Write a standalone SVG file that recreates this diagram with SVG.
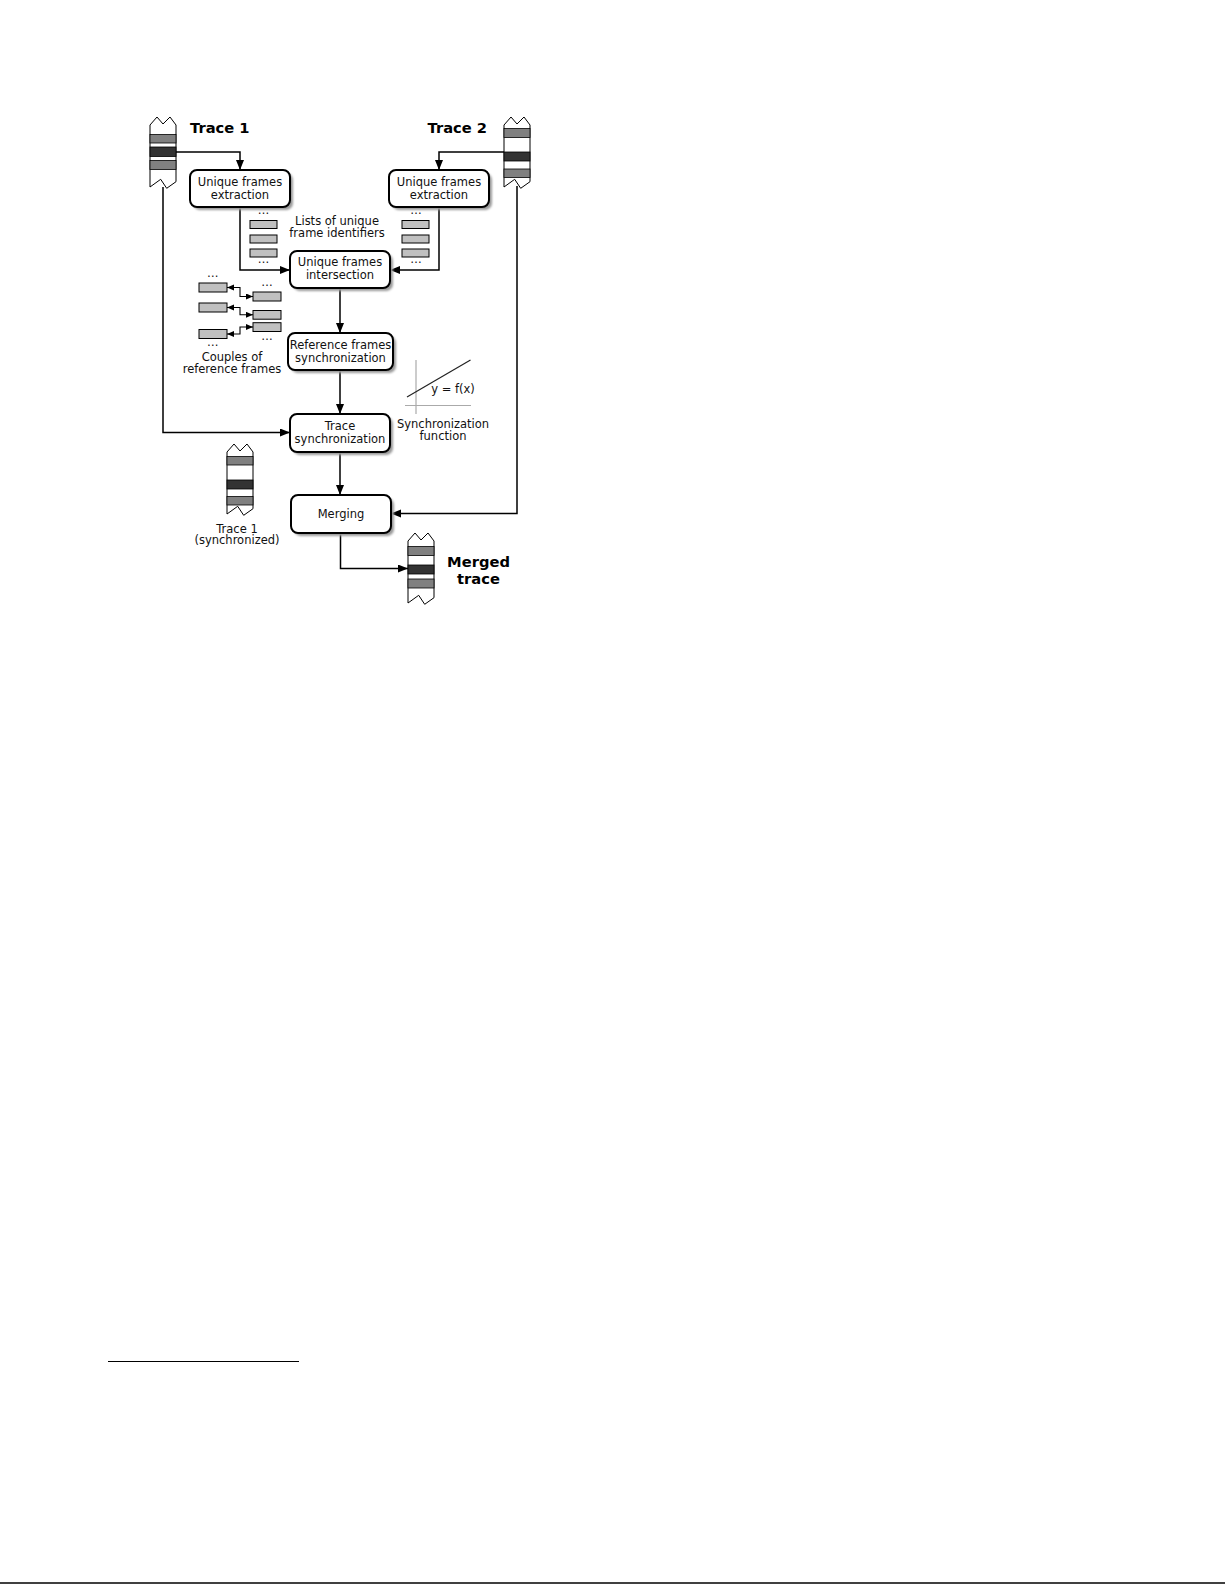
<svg xmlns="http://www.w3.org/2000/svg" width="1225" height="1585" viewBox="0 0 1225 1585">
<style>
  text { font-family: "DejaVu Sans", "Liberation Sans", sans-serif; font-size: 11.5px; fill: #111; }
  .title { font-weight: bold; font-size: 14.7px; fill: #000; }
  .mid { text-anchor: middle; }
  .box { fill: #fff; stroke: #000; stroke-width: 2; }
  .shadow { fill: #9a9a9a; filter: url(#blur); }
  .conn { fill: none; stroke: #000; stroke-width: 1.5; }
  .small { fill: none; stroke: #000; stroke-width: 1.1; }
  .frame { fill: #c0c0c0; stroke: #000; stroke-width: 1; }
  .tape { fill: #fff; stroke: #000; stroke-width: 1; }
  .gray { fill: #808080; stroke: #000; stroke-width: 0.8; }
  .dark { fill: #333; stroke: #000; stroke-width: 0.8; }
  .axis { stroke: #aaa; stroke-width: 1.2; fill: none; }
</style>
<defs>
  <filter id="blur" x="-10%" y="-10%" width="120%" height="130%">
    <feGaussianBlur stdDeviation="1"/>
  </filter>
  <marker id="arr" markerUnits="userSpaceOnUse" markerWidth="11" markerHeight="9" refX="10" refY="4" orient="auto">
    <path d="M0,0 L10,4 L0,8 z" fill="#000"/>
  </marker>
  <marker id="sarr" markerUnits="userSpaceOnUse" markerWidth="8" markerHeight="7" refX="7" refY="3" orient="auto-start-reverse">
    <path d="M0,0 L7,3 L0,6 z" fill="#000"/>
  </marker>
  <path id="tapeShape" d="M0,8 L7,0 L13,7 L20,0 L26,8 L26,64.7 L16.7,71.3 L10.7,62.3 L0,70 Z"/>
</defs>
<rect width="1225" height="1585" fill="#fff"/>

<g id="connectors">
  <path class="conn" d="M176,152 H240 V170" marker-end="url(#arr)"/>
  <path class="conn" d="M504,152 H439 V170" marker-end="url(#arr)"/>
  <path class="conn" d="M240,207 V270 H290" marker-end="url(#arr)"/>
  <path class="conn" d="M439,207 V270 H390" marker-end="url(#arr)"/>
  <path class="conn" d="M340,288 V333" marker-end="url(#arr)"/>
  <path class="conn" d="M340,370 V414" marker-end="url(#arr)"/>
  <path class="conn" d="M163,187 V432.5 H290" marker-end="url(#arr)"/>
  <path class="conn" d="M340,452 V495" marker-end="url(#arr)"/>
  <path class="conn" d="M517,186 V513.5 H391" marker-end="url(#arr)"/>
  <path class="conn" d="M340.5,533 V568.5 H408" marker-end="url(#arr)"/>
  <path class="small" d="M227,287.5 H240 V296.5 H253" marker-start="url(#sarr)" marker-end="url(#sarr)"/>
  <path class="small" d="M227,307.5 H240 V314.8 H253" marker-start="url(#sarr)" marker-end="url(#sarr)"/>
  <path class="small" d="M227,334 H240 V327 H253" marker-start="url(#sarr)" marker-end="url(#sarr)"/>
</g>

<g id="trace1">
  <use href="#tapeShape" class="tape" transform="translate(150,117)"/>
  <rect class="gray" x="150" y="134.5" width="26" height="8.5"/>
  <rect class="dark" x="150" y="147" width="26" height="9.5"/>
  <rect class="gray" x="150" y="160.5" width="26" height="9"/>
  <text class="title" x="190" y="133">Trace 1</text>
</g>

<g id="trace2">
  <use href="#tapeShape" class="tape" transform="translate(504,117)"/>
  <rect class="gray" x="504" y="128.5" width="26" height="9"/>
  <rect class="dark" x="504" y="152" width="26" height="9"/>
  <rect class="gray" x="504" y="169" width="26" height="8.5"/>
  <text class="title" x="427.5" y="133">Trace 2</text>
</g>

<g id="extract1">
  <rect class="shadow" x="193" y="173" width="100" height="37" rx="7"/>
  <rect class="box" x="190" y="170" width="100" height="37" rx="7"/>
  <text class="mid" x="240" y="185.5">Unique frames</text>
  <text class="mid" x="240" y="198.5">extraction</text>
</g>

<g id="extract2">
  <rect class="shadow" x="392" y="173" width="100" height="37" rx="7"/>
  <rect class="box" x="389" y="170" width="100" height="37" rx="7"/>
  <text class="mid" x="439" y="185.5">Unique frames</text>
  <text class="mid" x="439" y="198.5">extraction</text>
</g>

<g id="list1">
  <text class="mid" x="263.5" y="214">…</text>
  <rect class="frame" x="250" y="220.5" width="27" height="8"/>
  <rect class="frame" x="250" y="235" width="27" height="8"/>
  <rect class="frame" x="250" y="249" width="27" height="8"/>
  <text class="mid" x="263.5" y="263">…</text>
</g>

<g id="list2">
  <text class="mid" x="416" y="214">…</text>
  <rect class="frame" x="402" y="220.5" width="27" height="8"/>
  <rect class="frame" x="402" y="235" width="27" height="8"/>
  <rect class="frame" x="402" y="249" width="27" height="8"/>
  <text class="mid" x="416" y="263">…</text>
</g>

<g id="lists-label">
  <text class="mid" x="337" y="224.5">Lists of unique</text>
  <text class="mid" x="337" y="237">frame identifiers</text>
</g>

<g id="intersection">
  <rect class="shadow" x="293" y="254" width="100" height="37" rx="7"/>
  <rect class="box" x="290" y="251" width="100" height="37" rx="7"/>
  <text class="mid" x="340" y="266">Unique frames</text>
  <text class="mid" x="340" y="279">intersection</text>
</g>

<g id="couples">
  <text class="mid" x="212.7" y="277">…</text>
  <text class="mid" x="267" y="286">…</text>
  <rect class="frame" x="199" y="283" width="28" height="9"/>
  <rect class="frame" x="199" y="303" width="28" height="9"/>
  <rect class="frame" x="199" y="329.5" width="28" height="9"/>
  <rect class="frame" x="253" y="292" width="28" height="9"/>
  <rect class="frame" x="253" y="310.5" width="28" height="8.7"/>
  <rect class="frame" x="253" y="322.7" width="28" height="8.8"/>
  <text class="mid" x="212.7" y="346">…</text>
  <text class="mid" x="267" y="340">…</text>
  <text class="mid" x="232" y="360.5">Couples of</text>
  <text class="mid" x="232" y="373">reference frames</text>
</g>

<g id="refsync">
  <rect class="shadow" x="291" y="336" width="105" height="37" rx="7"/>
  <rect class="box" x="288" y="333" width="105" height="37" rx="7"/>
  <text class="mid" x="340.5" y="348.5">Reference frames</text>
  <text class="mid" x="340.5" y="361.5">synchronization</text>
</g>

<g id="syncfunction">
  <line class="axis" x1="416" y1="360" x2="416" y2="414"/>
  <line class="axis" x1="405" y1="405.5" x2="471" y2="405.5"/>
  <line x1="407" y1="397" x2="470.5" y2="360" stroke="#222" stroke-width="1.2"/>
  <text class="mid" x="453" y="393">y = f(x)</text>
  <text class="mid" x="443" y="427.5">Synchronization</text>
  <text class="mid" x="443" y="440">function</text>
</g>

<g id="tracesync">
  <rect class="shadow" x="293" y="417" width="100" height="38" rx="7"/>
  <rect class="box" x="290" y="414" width="100" height="38" rx="7"/>
  <text class="mid" x="340" y="429.5">Trace</text>
  <text class="mid" x="340" y="442.5">synchronization</text>
</g>

<g id="trace1sync">
  <use href="#tapeShape" class="tape" transform="translate(227,444)"/>
  <rect class="gray" x="227" y="456.5" width="26" height="8.5"/>
  <rect class="dark" x="227" y="480" width="26" height="9"/>
  <rect class="gray" x="227" y="496.5" width="26" height="8.5"/>
  <text class="mid" x="237" y="532.5">Trace 1</text>
  <text class="mid" x="237" y="544">(synchronized)</text>
</g>

<g id="merging">
  <rect class="shadow" x="294" y="498" width="100" height="38" rx="7"/>
  <rect class="box" x="291" y="495" width="100" height="38" rx="7"/>
  <text class="mid" x="341" y="517.5">Merging</text>
</g>

<g id="merged">
  <use href="#tapeShape" class="tape" transform="translate(408,533)"/>
  <rect class="gray" x="408" y="546.5" width="26" height="9"/>
  <rect class="dark" x="408" y="565" width="26" height="9"/>
  <rect class="gray" x="408" y="579" width="26" height="9"/>
  <text class="title mid" x="478.5" y="567">Merged</text>
  <text class="title mid" x="478.5" y="584">trace</text>
</g>

<line x1="108" y1="1361.5" x2="299" y2="1361.5" stroke="#000" stroke-width="1"/>
<line x1="0" y1="1583" x2="1225" y2="1583" stroke="#000" stroke-width="1.6"/>
</svg>
